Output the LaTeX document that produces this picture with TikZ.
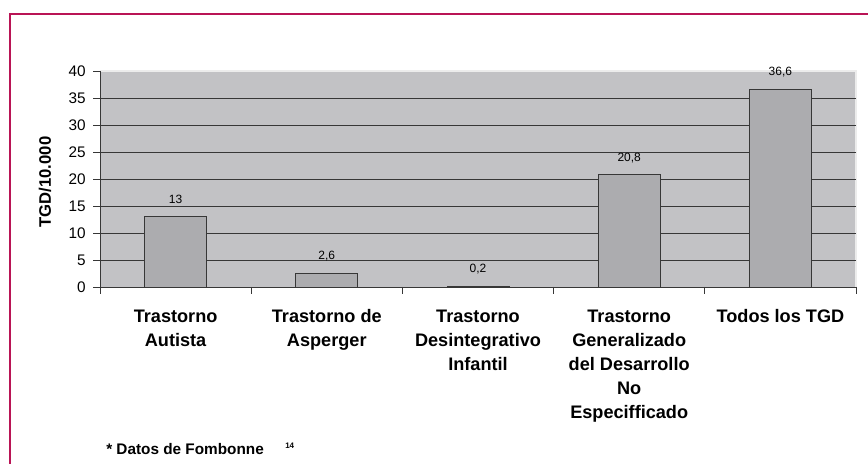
\documentclass[tikz,border=0pt]{standalone}
\usepackage{fontspec}
\setmainfont{Liberation Sans}
\definecolor{framered}{RGB}{185,20,85}
\definecolor{plotgray}{RGB}{194,194,197}
\definecolor{bargray}{RGB}{172,172,175}
\definecolor{linegray}{RGB}{55,55,55}
\newcommand{\catlines}[1]{\begin{tabular}[t]{@{}c@{}}#1\end{tabular}}
\begin{document}
\begin{tikzpicture}[x=0.75pt,y=0.75pt,
    gridline/.style={linegray,line width=0.6pt},
    tgdbar/.style={fill=bargray,draw=linegray,line width=0.6pt},
    ticklabel/.style={anchor=east,inner sep=0pt,font=\fontsize{11.5}{13}\selectfont},
    barvalue/.style={inner sep=0pt,font=\fontsize{9}{10}\selectfont},
    catlabel/.style={anchor=base,inner sep=0pt,
        font=\fontsize{13.6}{18}\selectfont\bfseries}]
\useasboundingbox (0,0) rectangle (868,464);
% frame of the figure
\draw[framered,line width=1.2pt] (10,0) -- (10,450) -- (868,450);
% plot area, 0 at y=177, 5.4 px per unit
\fill[plotgray] (100,177) rectangle (856,393);
\draw[white!85!gray,line width=0.8pt] (100,393) -- (856,393) -- (856,177);
\foreach \v in {5,10,...,35}
    \draw[gridline] (100,{177+5.4*\v}) -- (856,{177+5.4*\v});
% y axis with ticks and labels
\draw[gridline] (100,177) -- (100,393);
\foreach \v in {0,5,...,40} {
    \draw[gridline] (93,{177+5.4*\v}) -- (100,{177+5.4*\v});
    \node[ticklabel] at (86,{177+5.4*\v}) {\v};
}
\node[rotate=90,font=\fontsize{12.5}{14}\selectfont\bfseries] (ytitle) at (45,282) {TGD/10.000};
% bars
\foreach \i/\h/\t in {0/13/13,1/2.6/{2,6},2/0.2/{0,2},3/20.8/{20,8},4/36.6/{36,6}} {
    \draw[tgdbar] ({100+151.2*(\i+0.5)-31},177) rectangle ({100+151.2*(\i+0.5)+31},{177+5.4*\h});
    \node[barvalue] (val\i) at ({100+151.2*(\i+0.5)},{177+5.4*\h+17}) {\t};
}
% x axis
\draw[gridline] (100,177) -- (856,177);
\foreach \i in {0,...,5}
    \draw[gridline] ({100+151.2*\i},177) -- ({100+151.2*\i},170);
\node[catlabel] (cat0) at (175.6,141) {\catlines{Trastorno\\Autista}};
\node[catlabel] (cat1) at (326.8,141) {\catlines{Trastorno de\\Asperger}};
\node[catlabel] (cat2) at (478,141) {\catlines{Trastorno\\Desintegrativo\\Infantil}};
\node[catlabel] (cat3) at (629.2,141) {\catlines{Trastorno\\Generalizado\\del Desarrollo\\No\\Especifficado}};
\node[catlabel] (cat4) at (780.4,141) {\catlines{Todos los TGD}};
% source
\node[anchor=base west,inner sep=0pt,font=\fontsize{11.5}{13}\selectfont\bfseries] (fuente) at (106,9) {* Datos de Fombonne};
\node[anchor=base west,inner sep=0pt,font=\fontsize{6}{7}\selectfont\bfseries] (nota) at (285,15) {14};
\end{tikzpicture}
\end{document}
